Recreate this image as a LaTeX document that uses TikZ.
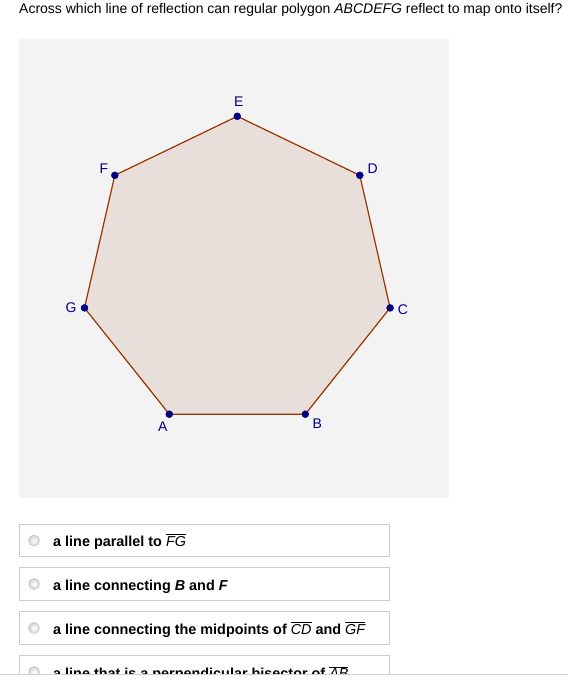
\documentclass[tikz,border=0pt]{standalone}
\usepackage{fontspec}
\setmainfont{Liberation Sans}
\usepackage{tkz-euclide}
\usetikzlibrary{calc}
\definecolor{PolyClr}{RGB}{153,51,0}
\definecolor{PtClr}{RGB}{0,0,128}
\definecolor{PanelClr}{RGB}{243,243,243}
\definecolor{BoxClr}{RGB}{204,204,204}
\newcommand{\seg}[1]{$\overline{\mbox{\normalfont\itshape #1}}$}

\begin{document}
\begin{tikzpicture}[x=1pt,y=-1pt,
  optbox/.style={draw=BoxClr,line width=1pt},
  opttext/.style={anchor=base west,inner sep=0pt,font=\fontsize{14.4}{16}\selectfont\bfseries},
  radio/.style={circle,draw=gray!55,inner color=white,outer color=gray!35,minimum size=11pt,inner sep=0pt},
  ptlabel/.style={text=PtClr,font=\fontsize{14}{16}\selectfont}]
\useasboundingbox (0,0) rectangle (568,682);
\fill[white] (0,0) rectangle (568,682);

\node[anchor=base west,inner sep=0pt,font=\fontsize{14}{16}\selectfont] (title) at (19,14)
  {Across which line of reflection can regular polygon \textit{ABCDEFG} reflect to map onto itself?};
\fill[PanelClr] (19,39) rectangle (449,498);

\tkzSetUpLine[line width=1.2pt,color=PolyClr]
\tkzSetUpPoint[fill=PtClr,color=PtClr]

\tkzDefPoints{169.3/414.2/A,305.3/414.2/B,390.1/307.9/C,359.8/175.3/D,237.3/116.3/E,114.8/175.3/F,84.5/307.9/G}

\tkzFillPolygon[fill=PolyClr,fill opacity=0.1](A,B,C,D,E,F,G)
\tkzDrawPolygon[color=PolyClr](A,B,C,D,E,F,G)
\tkzDrawPoints[size=7](A,B,C,D,E,F,G)
\tkzLabelPoint[ptlabel,below=4pt,xshift=-6.5pt](A){A}
\tkzLabelPoint[ptlabel,below=1.5pt,xshift=12pt](B){B}
\tkzLabelPoint[ptlabel,right=4.3pt,yshift=-2pt](C){C}
\tkzLabelPoint[ptlabel,right=4.3pt,yshift=7pt](D){D}
\tkzLabelPoint[ptlabel,above=6pt,xshift=1.5pt](E){E}
\tkzLabelPoint[ptlabel,left=3pt,yshift=7pt](F){F}
\tkzLabelPoint[ptlabel,left=4.4pt](G){G}

\draw[optbox] (19.5,524) rectangle (389.5,556);
\draw[optbox] (19.5,567.5) rectangle (389.5,600);
\draw[optbox] (19.5,611.5) rectangle (389.5,644.5);
\draw[optbox] (19.5,655.5) rectangle (389.5,690);
\node[radio] (r1) at (34,540.5) {};
\node[radio] (r2) at (34,584) {};
\node[radio] (r3) at (34,628) {};
\node[radio] (r4) at (34,672) {};
\node[opttext] (o1) at (53,546) {a line parallel to \seg{FG}};
\node[opttext] (o2) at (53,590) {a line connecting \textit{B} and \textit{F}};
\node[opttext] (o3) at (53,634) {a line connecting the midpoints of \seg{CD} and \seg{GF}};
\node[opttext] (o4) at (53,678) {a line that is a perpendicular bisector of \seg{AB}};

\fill[white] (0,674) rectangle (568,682);
\draw[gray!35] (0,674) -- (568,674);
\end{tikzpicture}
\end{document}
